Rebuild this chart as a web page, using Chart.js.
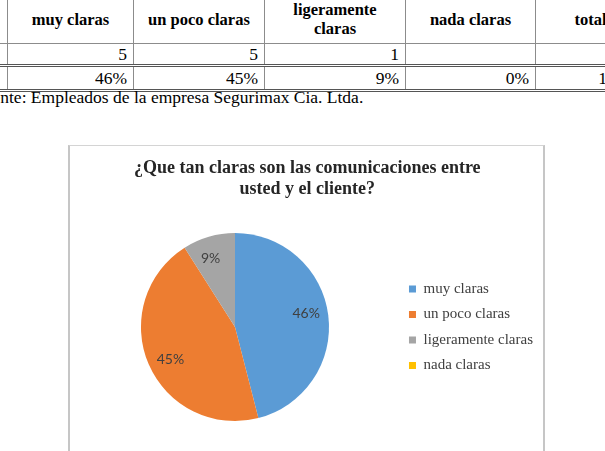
<!DOCTYPE html>
<html>
<head>
<meta charset="utf-8">
<script src="https://cdn.jsdelivr.net/npm/chart.js@4/dist/chart.umd.min.js"></script>
<style>
  html, body { margin: 0; padding: 0; background: #fff; }
  body { width: 605px; height: 451px; overflow: hidden; position: relative; font-family: "Liberation Serif", "Times New Roman", serif; }
  #tbl { position: absolute; left: -113px; top: -6px; width: 758px; border-collapse: collapse; table-layout: fixed; color: #000; font-size: 17.5px; }
  #tbl td, #tbl th { border: 1px solid #8c8c8c; padding: 0 6px; overflow: hidden; white-space: nowrap; }
  #tbl th { font-weight: bold; font-size: 16.5px; text-align: center; height: 48px; line-height: 19px; }
  #tbl td { text-align: right; height: 20px; line-height: 19px; }
  #tbl tr.r1 td { border-bottom: 3px double #555; }
  #tbl tr.r2 td { border-bottom: 3px double #555; height: 22px; }
  #tbl td.first { text-align: left; }
  #src { position: absolute; left: -26px; top: 87px; font-size: 17.5px; color: #000; white-space: nowrap; }
  #box { position: absolute; left: 68px; top: 145px; width: 473px; height: 330px; border: 1px solid #d4d4d4; border-left-color: #c6c6c6; border-right-color: #c6c6c6; border-left-width: 2px; border-right-width: 2px; }
  #pie { position: absolute; left: 68px; top: 145px; }
</style>
</head>
<body>
<table id="tbl">
  <colgroup><col style="width:120px"><col style="width:126px"><col style="width:131px"><col style="width:141px"><col style="width:130px"><col style="width:110px"></colgroup>
  <thead><tr id="head"></tr></thead>
  <tbody><tr class="r1" id="rowCount"></tr><tr class="r2" id="rowPct"></tr></tbody>
</table>
<div id="src">Fuente: Empleados de la empresa Segurimax Cia. Ltda.</div>
<div id="box"></div>
<canvas id="pie" width="475" height="290"></canvas>
<script>
const categories = ['muy claras', 'un poco claras', 'ligeramente claras', 'nada claras'];
const headLabels = ['muy claras', 'un poco claras', 'ligeramente<br>claras', 'nada claras', 'total'];
const counts = [5, 5, 1, null];
const countTotal = 11;
const percents = [46, 45, 9, 0];
const pctTotal = 100;
const colors = ['#5B9BD5', '#ED7D31', '#A5A5A5', '#FFC000'];
const chartTitle = ['¿Que tan claras son las comunicaciones entre', 'usted y el cliente?'];

// tabla de arriba
document.getElementById('head').innerHTML = '<th></th>' + headLabels.map(h => `<th>${h}</th>`).join('');
document.getElementById('rowCount').innerHTML = '<td class="first">Frecuencia</td>' +
  counts.map(c => `<td>${c == null ? '' : c}</td>`).join('') + `<td>${countTotal}</td>`;
document.getElementById('rowPct').innerHTML = '<td class="first">Porcentaje</td>' +
  percents.map(p => `<td>${p}%</td>`).join('') + `<td>${pctTotal}%</td>`;

const sliceLabels = {
  id: 'sliceLabels',
  afterDatasetsDraw(chart) {
    const ctx = chart.ctx;
    const meta = chart.getDatasetMeta(0);
    ctx.save();
    ctx.font = '14px Lato, "Liberation Sans", sans-serif';
    ctx.fillStyle = '#404040';
    ctx.textAlign = 'center';
    ctx.textBaseline = 'middle';
    meta.data.forEach((arc, i) => {
      if (!percents[i]) return;
      const { x, y, startAngle, endAngle, outerRadius } = arc.getProps(['x', 'y', 'startAngle', 'endAngle', 'outerRadius'], true);
      const mid = (startAngle + endAngle) / 2 - 0.06;
      const r = outerRadius * 0.77;
      ctx.fillText(percents[i] + '%', x + Math.cos(mid) * r, y + Math.sin(mid) * r);
    });
    ctx.restore();
  },
};

new Chart(document.getElementById('pie').getContext('2d'), {
  type: 'pie',
  data: {
    labels: categories,
    datasets: [{ data: percents, backgroundColor: colors, borderWidth: 0, hoverOffset: 0 }],
  },
  options: {
    responsive: false, animation: false, radius: 94,
    layout: { padding: { left: 3.5 } },
    plugins: {
      title: {
        display: true, text: chartTitle, color: '#262626',
        font: { family: '"Liberation Serif", "Times New Roman", serif', size: 18, weight: 'bold', lineHeight: 1.167 },
        padding: { top: 12.5, bottom: 19.5 },
      },
      legend: {
        position: 'right',
        title: { display: true, text: ' ', font: { size: 12, lineHeight: 1.2 }, padding: { top: 60, bottom: 0 } },
        labels: {
          boxWidth: 7, boxHeight: 7, padding: 10.5, color: '#404040',
          font: { family: '"Liberation Serif", "Times New Roman", serif', size: 15 },
        },
      },
      tooltip: { enabled: false },
    },
  },
  plugins: [sliceLabels],
});
</script>
</body>
</html>
